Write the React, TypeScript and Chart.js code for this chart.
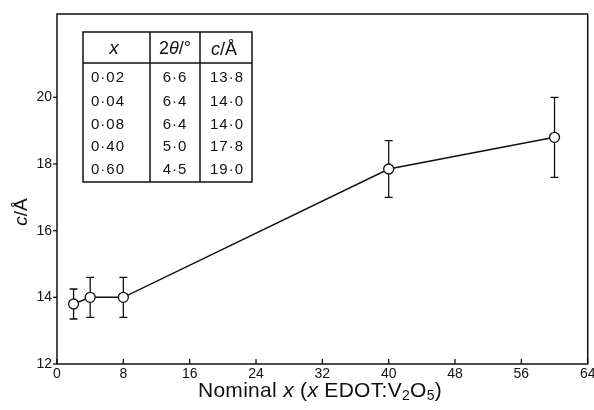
import React, { useEffect, useRef } from "react";
import { Chart, registerables } from "chart.js";

Chart.register(...registerables);

const xValues = [2, 4, 8, 40, 60];
const cValues = [13.8, 14.0, 14.0, 17.85, 18.8];
const cErrors = [0.45, 0.6, 0.6, 0.85, 1.2];
const xTicks = [0, 8, 16, 24, 32, 40, 48, 56, 64];
const yTicks = [12, 14, 16, 18, 20];

const tableX = ["0·02", "0·04", "0·08", "0·40", "0·60"];
const tableTheta = ["6·6", "6·4", "6·4", "5·0", "4·5"];
const tableC = ["13·8", "14·0", "14·0", "17·8", "19·0"];

const FONT = "'Liberation Sans', Arial, sans-serif";

function drawParts(
  ctx: CanvasRenderingContext2D,
  parts: { t: string; f: string; dy?: number }[],
  x: number,
  y: number,
  align: "center" | "left",
  spacing = 0
) {
  (ctx as any).letterSpacing = spacing + "px";
  let total = 0;
  for (const p of parts) {
    ctx.font = p.f;
    total += ctx.measureText(p.t).width;
  }
  let cx = align === "center" ? x - total / 2 : x;
  ctx.textAlign = "left";
  for (const p of parts) {
    ctx.font = p.f;
    ctx.fillText(p.t, cx, y + (p.dy || 0));
    cx += ctx.measureText(p.t).width;
  }
  (ctx as any).letterSpacing = "0px";
}

const overlayPlugin = {
  id: "overlay",
  beforeDatasetsDraw(chart: any) {
    const ctx = chart.ctx as CanvasRenderingContext2D;
    const xs = chart.scales.x;
    const ys = chart.scales.y;
    ctx.save();
    ctx.strokeStyle = "#111";
    ctx.lineWidth = 1.3;
    for (let i = 0; i < xValues.length; i++) {
      const px = xs.getPixelForValue(xValues[i]);
      const top = ys.getPixelForValue(cValues[i] + cErrors[i]);
      const bot = ys.getPixelForValue(cValues[i] - cErrors[i]);
      ctx.beginPath();
      ctx.moveTo(px, top);
      ctx.lineTo(px, bot);
      ctx.moveTo(px - 4, top);
      ctx.lineTo(px + 4, top);
      ctx.moveTo(px - 4, bot);
      ctx.lineTo(px + 4, bot);
      ctx.stroke();
    }
    ctx.restore();
  },
  afterDatasetsDraw(chart: any) {
    const ctx = chart.ctx as CanvasRenderingContext2D;
    const xs = chart.scales.x;
    const ys = chart.scales.y;
    const area = chart.chartArea;
    ctx.save();
    ctx.strokeStyle = "#111";
    ctx.fillStyle = "#111";
    ctx.lineWidth = 1.5;
    ctx.strokeRect(area.left, area.top, area.right - area.left, area.bottom - area.top);
    ctx.lineWidth = 1.3;
    for (const v of xTicks) {
      const px = xs.getPixelForValue(v);
      ctx.beginPath();
      ctx.moveTo(px, area.bottom);
      ctx.lineTo(px, area.bottom - 5);
      ctx.stroke();
    }
    for (const v of yTicks) {
      const py = ys.getPixelForValue(v);
      ctx.beginPath();
      ctx.moveTo(area.left, py);
      ctx.lineTo(area.left - 4, py);
      ctx.stroke();
    }
    ctx.textBaseline = "middle";
    drawParts(
      ctx,
      [
        { t: "Nominal ", f: `21px ${FONT}` },
        { t: "x", f: `italic 21px ${FONT}` },
        { t: " (", f: `21px ${FONT}` },
        { t: "x", f: `italic 21px ${FONT}` },
        { t: " EDOT:V", f: `21px ${FONT}` },
        { t: "2", f: `14px ${FONT}`, dy: 5 },
        { t: "O", f: `21px ${FONT}` },
        { t: "5", f: `14px ${FONT}`, dy: 5 },
        { t: ")", f: `21px ${FONT}` },
      ],
      320,
      391,
      "center",
      0.3
    );
    ctx.save();
    ctx.translate(22, 212);
    ctx.rotate(-Math.PI / 2);
    drawParts(
      ctx,
      [
        { t: "c", f: `italic 19px ${FONT}` },
        { t: "/Å", f: `19px ${FONT}` },
      ],
      0,
      0,
      "center"
    );
    ctx.restore();

    const L = area.left + 26;
    const T = area.top + 18;
    const R = L + 169;
    const B = T + 150;
    const H = T + 31;
    const c1 = L + 67;
    const c2 = L + 117;
    ctx.lineWidth = 1.5;
    ctx.strokeRect(L, T, R - L, B - T);
    ctx.beginPath();
    ctx.moveTo(L, H);
    ctx.lineTo(R, H);
    ctx.moveTo(c1, T);
    ctx.lineTo(c1, B);
    ctx.moveTo(c2, T);
    ctx.lineTo(c2, B);
    ctx.stroke();
    const hy = T + 17;
    drawParts(ctx, [{ t: "x", f: `italic 19px ${FONT}` }], L + 31, hy, "center");
    drawParts(
      ctx,
      [
        { t: "2", f: `18px ${FONT}` },
        { t: "θ", f: `italic 18px ${FONT}` },
        { t: "/°", f: `18px ${FONT}` },
      ],
      (c1 + c2) / 2,
      hy,
      "center"
    );
    drawParts(
      ctx,
      [
        { t: "c", f: `italic 18px ${FONT}` },
        { t: "/Å", f: `18px ${FONT}` },
      ],
      c2 + 24,
      hy + 1,
      "center"
    );
    const rowY = [46, 70, 93, 115, 138];
    for (let i = 0; i < tableX.length; i++) {
      const y = T + rowY[i];
      drawParts(ctx, [{ t: tableX[i], f: `15px ${FONT}` }], L + 8, y, "left", 1);
      drawParts(ctx, [{ t: tableTheta[i], f: `15px ${FONT}` }], (c1 + c2) / 2, y, "center", 1);
      drawParts(ctx, [{ t: tableC[i], f: `15px ${FONT}` }], c2 + 27, y, "center", 1);
    }
    ctx.restore();
  },
};

export default function App() {
  const ref = useRef<HTMLCanvasElement | null>(null);
  useEffect(() => {
    document.body.style.margin = "0";
    const canvas = ref.current!;
    const chart = new Chart(canvas, {
      type: "line",
      data: {
        datasets: [
          {
            data: xValues.map((x, i) => ({ x, y: cValues[i] })),
            borderColor: "#111",
            borderWidth: 1.5,
            pointBackgroundColor: "#fff",
            pointBorderColor: "#111",
            pointBorderWidth: 1.3,
            pointRadius: 5,
            fill: false,
            tension: 0,
          },
        ],
      },
      options: {
        animation: false,
        responsive: false,
        maintainAspectRatio: false,
        layout: { padding: { top: 14, right: -3, left: 0, bottom: 0 } },
        plugins: { legend: { display: false }, tooltip: { enabled: false } },
        scales: {
          x: {
            type: "linear",
            min: 0,
            max: 64,
            grid: { display: false, drawTicks: false, tickLength: 0 },
            border: { display: false },
            ticks: { stepSize: 8, color: "#111", padding: 2, font: { family: FONT, size: 14 } },
            afterFit: (s: any) => {
              s.height = 46;
              s.paddingRight = 0;
            },
          },
          y: {
            type: "linear",
            min: 12,
            max: 22.5,
            grid: { display: false, drawTicks: false, tickLength: 0 },
            border: { display: false },
            ticks: { stepSize: 2, color: "#111", padding: 5, font: { family: FONT, size: 14 } },
            afterBuildTicks: (s: any) => {
              s.ticks = s.ticks.filter((t: any) => t.value <= 20);
            },
            afterFit: (s: any) => {
              s.width = 57;
            },
          },
        },
      },
      plugins: [overlayPlugin],
    });
    return () => chart.destroy();
  }, []);
  return (
    <div style={{ width: 594, height: 410 }}>
      <canvas ref={ref} width={594} height={410} style={{ display: "block" }} />
    </div>
  );
}
